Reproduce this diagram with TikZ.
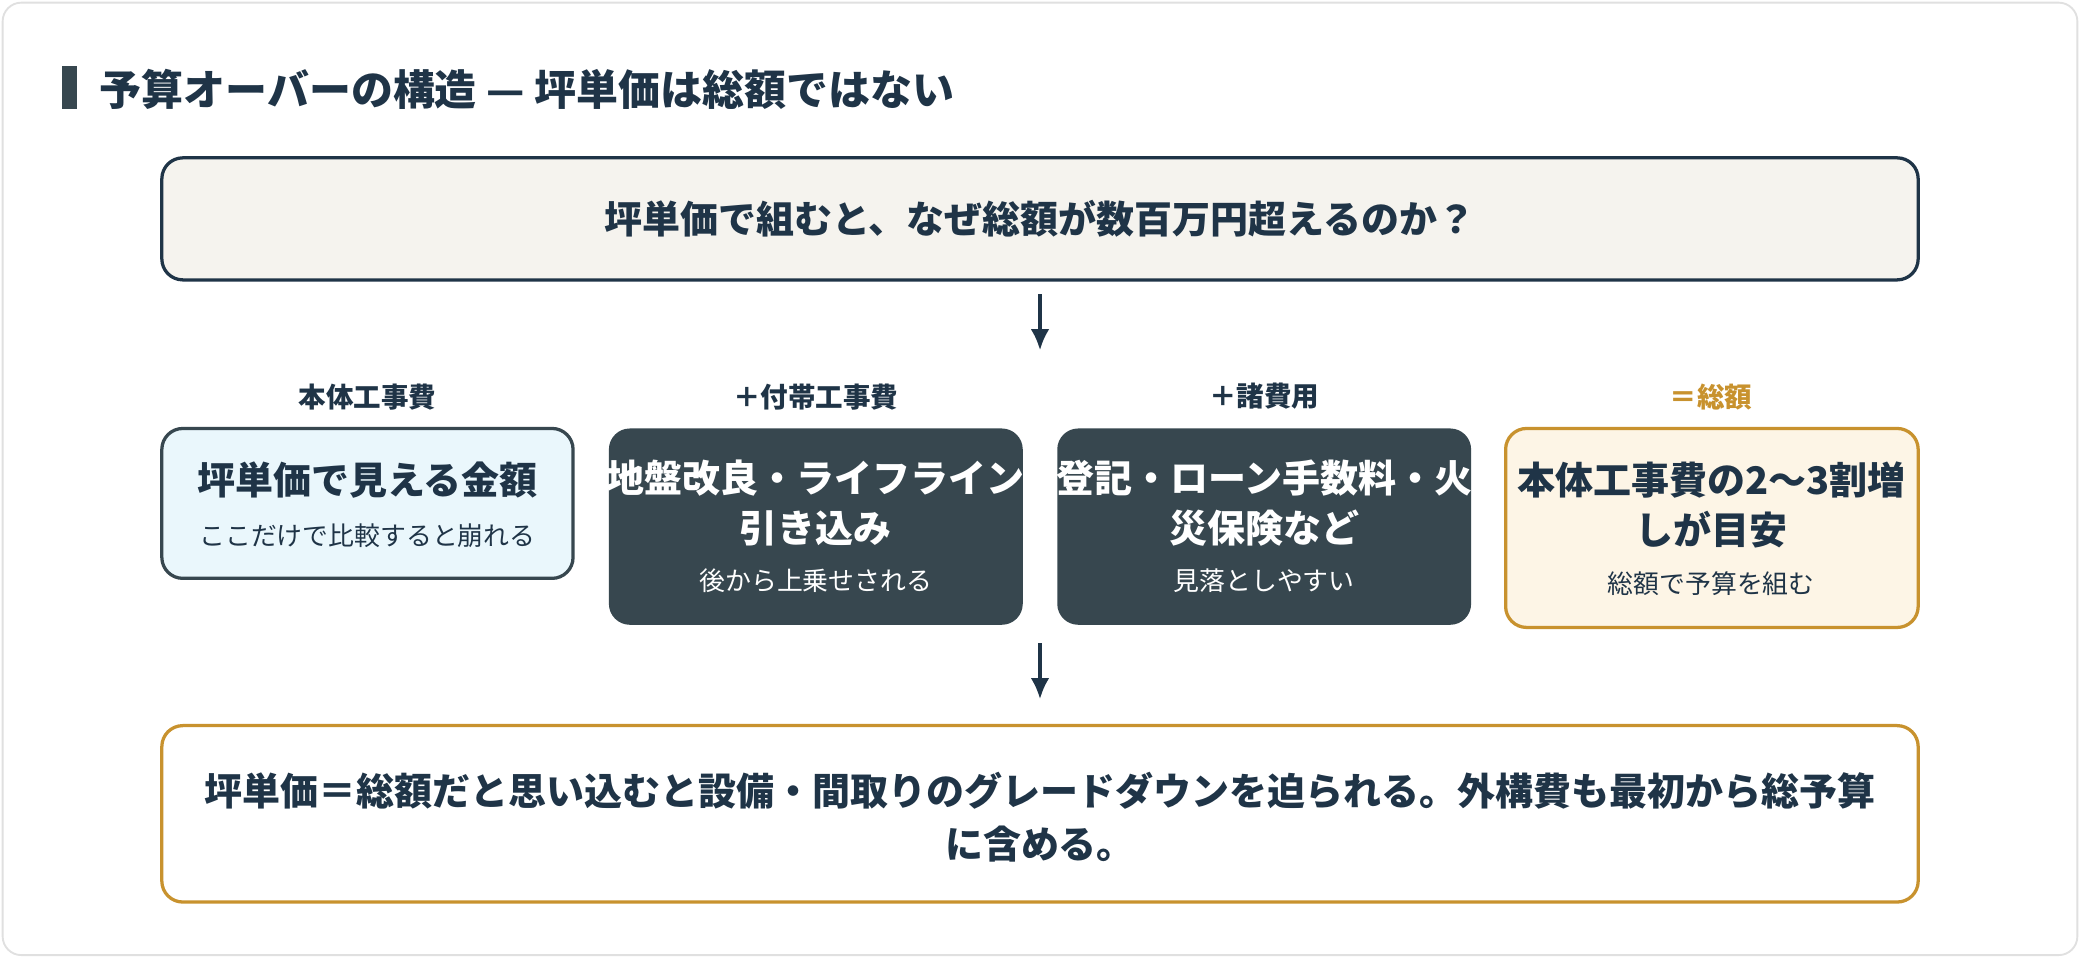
\documentclass[tikz,border=0pt]{standalone}
\usepackage{fontspec}
\setmainfont{Noto Sans CJK JP}
\usetikzlibrary{arrows.meta}
\definecolor{navy}{HTML}{1F3447}
\definecolor{slate}{HTML}{37474F}
\definecolor{gold}{HTML}{C8922E}
\definecolor{cream}{HTML}{F5F3EE}
\definecolor{ice}{HTML}{EAF7FC}
\definecolor{paper}{HTML}{FDF5E6}
\tikzset{
  box/.style={rounded corners=9pt, line width=1.4pt},
  head/.style={font=\bfseries\fontsize{16.3}{21.5}\selectfont, text=navy, align=center},
  sub/.style={font=\fontsize{11.1}{13}\selectfont, text=navy},
  tag/.style={font=\bfseries\fontsize{11.8}{13}\selectfont, text=navy},
  down/.style={-{Latex[length=9pt,width=8pt]}, line width=1.4pt, draw=navy}
}
\begin{document}
\begin{tikzpicture}[x=0.02cm,y=-0.02cm]
\useasboundingbox (0,0) rectangle (1568,722);
\draw[rounded corners=8pt, draw=black!12, fill=white, line width=0.8pt] (2,2) rectangle (1566,720);
% title
\fill[slate] (47,50) rectangle (58,82);
\node[anchor=west, font=\bfseries\fontsize{18}{21}\selectfont, text=navy] (title) at (69,67) {予算オーバーの構造 — 坪単価は総額ではない};
% question
\draw[box, draw=navy, fill=cream] (122,119) rectangle (1446,211);
\node[head] (q) at (784,165) {坪単価で組むと、なぜ総額が数百万円超えるのか？};
\coordinate (a1) at (784,222);
\coordinate (a2) at (784,264);
\draw[down] (a1) -- (a2);
% tags
\node[tag] (t1) at (277,299) {本体工事費};
\node[tag] (t2) at (615,299) {＋付帯工事費};
\node[tag] (t3) at (953,299) {＋諸費用};
\node[tag, text=gold] (t4) at (1290,299) {＝総額};
% boxes
\draw[box, draw=slate, fill=ice] (122,323) rectangle (432,436);
\node[head] (h1) at (277,362) {坪単価で見える金額};
\node[sub] (s1) at (277,404) {ここだけで比較すると崩れる};
\fill[slate, rounded corners=9pt] (459,323) rectangle (771,471);
\node[head, text=white] (h2) at (615,379) {地盤改良・ライフライン\\引き込み};
\node[sub, text=white] (s2) at (615,438) {後から上乗せされる};
\fill[slate, rounded corners=9pt] (797,323) rectangle (1109,471);
\node[head, text=white] (h3) at (953,379) {登記・ローン手数料・火\\災保険など};
\node[sub, text=white] (s3) at (953,438) {見落としやすい};
\draw[box, draw=gold, fill=paper] (1135,323) rectangle (1446,473);
\node[head] (h4) at (1290,381) {本体工事費の2〜3割増\\しが目安};
\node[sub] (s4) at (1290,440) {総額で予算を組む};
\coordinate (b1) at (784,485);
\coordinate (b2) at (784,527);
\draw[down] (b1) -- (b2);
% conclusion
\draw[box, draw=gold, fill=white] (122,547) rectangle (1446,680);
\node[head] (c) at (784,616) {坪単価＝総額だと思い込むと設備・間取りのグレードダウンを迫られる。外構費も最初から総予算\\[1pt]に含める。};
\end{tikzpicture}
\end{document}
